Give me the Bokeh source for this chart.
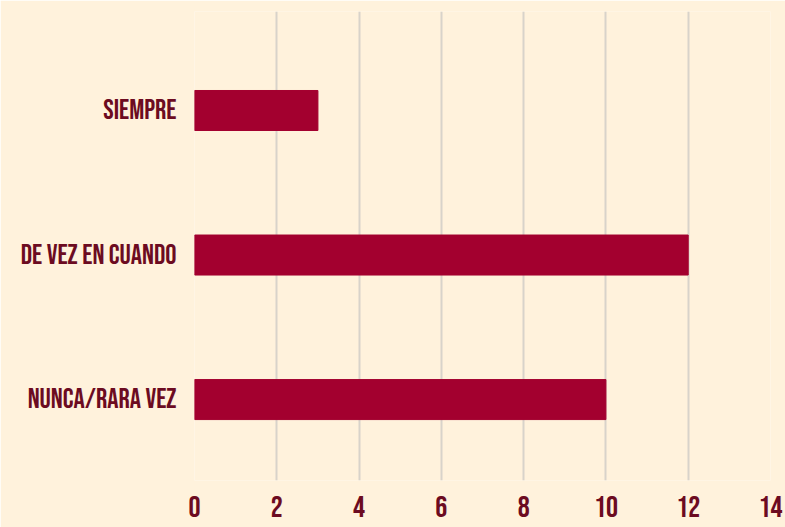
from bokeh.plotting import figure
from bokeh.models import Range1d, FixedTicker
from bokeh.embed import file_html
from bokeh.resources import INLINE

categories = ["SIEMPRE", "DE VEZ EN CUANDO", "NUNCA/RARA VEZ"]
values = [3, 12, 10]
x_ticks = [0, 2, 4, 6, 8, 10, 12, 14]

BG = "#FFF2DC"
BAR = "#A3002F"
TXT = "#6C0B21"
GRID = "#D8D3CA"
FONT = "'Bebas Neue', 'Roboto Condensed', sans-serif"

ypos = [i + 0.5 for i in range(len(categories))]

p = figure(width=785, height=527, output_backend="svg", toolbar_location=None,
           x_range=Range1d(0, 14), y_range=Range1d(3.06, -0.185),
           min_border_left=194, min_border_right=15, min_border_top=11, min_border_bottom=47)
p.background_fill_color = BG
p.border_fill_color = BG
p.outline_line_color = None

p.hbar(y=ypos, right=values, left=0, height=40/144.5, color=BAR)

p.xaxis.ticker = FixedTicker(ticks=x_ticks)
p.yaxis.ticker = FixedTicker(ticks=ypos)
p.yaxis.major_label_overrides = {y: c for y, c in zip(ypos, categories)}

for ax in (p.xaxis[0], p.yaxis[0]):
    ax.axis_line_color = None
    ax.major_tick_line_color = None
    ax.minor_tick_line_color = None
    ax.major_label_text_color = TXT
    ax.major_label_text_font = FONT
    ax.major_label_text_font_style = "normal"

p.xaxis.major_label_text_font_size = "30px"
p.xaxis.major_label_standoff = 9
p.yaxis.major_label_text_font_size = "28px"
p.yaxis.major_label_standoff = 12

p.xgrid.grid_line_color = GRID
p.xgrid.grid_line_width = 2
p.xgrid.ticker = FixedTicker(ticks=x_ticks)
p.ygrid.grid_line_color = None

open("out.html", "w").write(file_html(p, INLINE))
